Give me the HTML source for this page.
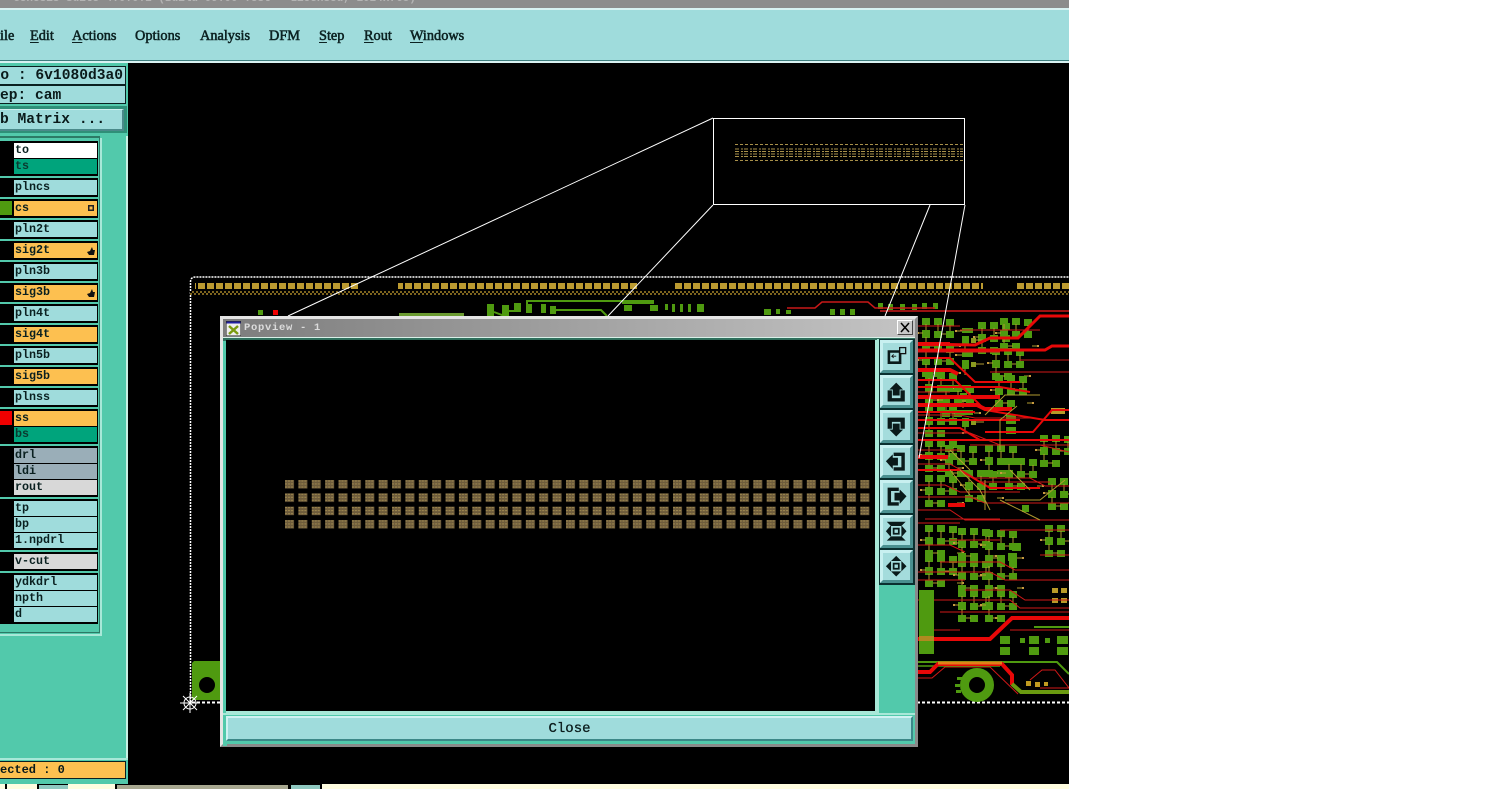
<!DOCTYPE html>
<html><head><meta charset="utf-8"><style>
html,body{margin:0;padding:0;background:#fff;width:1510px;height:789px;overflow:hidden}
#s{position:absolute;left:0;top:0;width:1069px;height:789px;overflow:hidden;background:#000}
.a{position:absolute;box-sizing:border-box}
.m{position:absolute;top:28px;font:normal 14.3px/16px "Liberation Serif",serif;-webkit-text-stroke:.55px #0c2222;color:#0c2222;white-space:nowrap}
.m u{text-underline-offset:2px}
.mono{font-family:"Liberation Mono",monospace;font-weight:bold;color:#0a1a1a;white-space:pre}
.l{position:absolute;left:14px;width:82px;height:15px;font:bold 11.7px/15px "Liberation Mono",monospace;color:#0a2020;background:#9fdcdc;padding-left:1px;overflow:hidden;white-space:pre}
.o{background:#fdc050}.g{background:#00a47c}.w{background:#fff}.b{background:#9aaeb8}.y{background:#d8d8d8}
.k{position:absolute;left:0;width:98px;background:#000}
.btn{position:absolute;left:880px;width:33px;height:33px;background:#a4dcdc;border-top:3px solid #c8f0f0;border-left:3px solid #c8f0f0;border-right:3px solid #4a9090;border-bottom:3px solid #4a9090;box-sizing:border-box}
.btn svg{position:absolute;left:-2px;top:-2px;transform:scale(.86)}
</style></head><body>
<div id="s">
<svg class="a" style="left:0;top:0" width="1069" height="789" viewBox="0 0 1069 789">
<defs>
<pattern id="gd" width="9" height="6" patternUnits="userSpaceOnUse" patternTransform="translate(0,283)"><rect width="7" height="6" fill="#bb9a30"/></pattern>
<pattern id="ht" width="4" height="4" patternUnits="userSpaceOnUse" patternTransform="translate(0,291)"><rect width="4" height="4" fill="#000"/><path d="M0 1h2M2 3h2" stroke="#c8a030" stroke-width="1.2"/></pattern>
<pattern id="pd" width="13.38" height="13.33" patternUnits="userSpaceOnUse" patternTransform="translate(285,480)"><rect x="0" y="0" width="9" height="8.500" fill="#6e5c3c"/><path d="M0 1h9M0 4h9M0 7h9" stroke="#a08a50" stroke-width="1" stroke-dasharray="2 1"/></pattern>
<g id="c"><rect x="0" y="0" width="8" height="7" fill="#4f9a10"/><rect x="12" y="0" width="8" height="7" fill="#4f9a10"/><rect x="24" y="1" width="8" height="7" fill="#4f9a10"/><rect x="0" y="12" width="8" height="8" fill="#4f9a10"/><rect x="12" y="13" width="8" height="7" fill="#4f9a10"/><rect x="24" y="13" width="8" height="7" fill="#4f9a10"/><rect x="0" y="25" width="8" height="7" fill="#4f9a10"/><rect x="12" y="25" width="8" height="7" fill="#4f9a10"/><path d="M4 6v6M16 6v7M28 7v6M-4 15h5M20 16h4M8 28h5M32 28h6M4 19v6" stroke="#b09a30" fill="none"/><rect x="-5" y="14" width="2" height="2" fill="#c89a40"/><rect x="37" y="27" width="2" height="2" fill="#c89a40"/></g>
<g id="t"><rect x="0" y="0" width="11" height="5" fill="#4f9a10"/><rect x="0" y="8" width="7" height="9" fill="#4f9a10"/><rect x="9" y="10" width="5" height="5" fill="#8a9a20"/><path d="M-6 3h6M14 12h8M3 17v6" stroke="#b09a30"/><rect x="-7" y="2" width="2" height="2" fill="#c89a40"/></g>
</defs>
<!-- board outline -->
<path d="M190.500 702V282q0-5 5-5H1069" fill="none" stroke="#fff" stroke-width="1.500" stroke-dasharray="2 1"/>
<path d="M192 702.500H1069" stroke="#fff" stroke-width="2" stroke-dasharray="3 2"/>
<rect x="195" y="283" width="165" height="6" fill="url(#gd)"/><rect x="398" y="283" width="240" height="6" fill="url(#gd)"/><rect x="673" y="283" width="310" height="6" fill="url(#gd)"/><rect x="1015" y="283" width="54" height="6" fill="url(#gd)"/>
<rect x="190" y="291" width="879" height="4" fill="url(#ht)"/>
<!-- top strip -->
<rect x="258" y="310" width="5" height="5" fill="#4f9a10"/><rect x="273" y="310" width="5" height="5" fill="#e00"/><rect x="399" y="313" width="65" height="4" fill="#6a9a30"/>
<g fill="#4f9a10"><rect x="487" y="304" width="7" height="13"/><rect x="502" y="305" width="7" height="12"/><rect x="514" y="303" width="7" height="9"/><rect x="526" y="304" width="6" height="9"/><rect x="541" y="304" width="5" height="9"/><rect x="550" y="306" width="6" height="8"/><rect x="622" y="300" width="32" height="4"/><rect x="624" y="305" width="8" height="6"/><rect x="650" y="305" width="8" height="6"/><rect x="665" y="304" width="3" height="6"/><rect x="672" y="304" width="3" height="8"/><rect x="680" y="304" width="3" height="8"/><rect x="688" y="304" width="3" height="8"/><rect x="697" y="304" width="7" height="8"/><rect x="764" y="309" width="7" height="6"/><rect x="776" y="309" width="4" height="5"/><rect x="786" y="310" width="5" height="4"/><rect x="830" y="309" width="5" height="6"/><rect x="840" y="309" width="5" height="6"/><rect x="850" y="309" width="5" height="6"/><rect x="878" y="303" width="5" height="6"/><rect x="888" y="304" width="5" height="6"/><rect x="900" y="304" width="5" height="6"/><rect x="912" y="304" width="5" height="6"/><rect x="922" y="303" width="5" height="6"/><rect x="933" y="303" width="5" height="6"/></g>
<path d="M494 312l8 3 7-4h5M527 312v-11h95M553 313l3-3h45l6 6" stroke="#4f9a10" fill="none" stroke-width="2"/>
<path d="M787 308h28l7-6h46l7 6h60M880 311H1069" stroke="#c81818" fill="none" stroke-width="1.500"/>
<!-- clusters -->
<use href="#c" x="978" y="322"/><use href="#c" x="1000" y="318"/><use href="#c" x="922" y="318"/><use href="#c" x="922" y="345"/><use href="#c" x="925" y="372"/><use href="#t" x="962" y="328"/><use href="#t" x="962" y="352"/><use href="#t" x="960" y="385"/><use href="#t" x="962" y="410"/><use href="#c" x="992" y="348"/><use href="#c" x="995" y="375"/><use href="#c" x="925" y="405"/><use href="#c" x="942" y="385"/><use href="#c" x="985" y="445"/><use href="#c" x="925" y="440"/><use href="#c" x="945" y="445"/><use href="#c" x="1005" y="458"/><use href="#c" x="925" y="475"/><use href="#c" x="965" y="470"/><use href="#c" x="1040" y="435"/><use href="#c" x="1048" y="478"/>
<use href="#c" x="925" y="525"/><use href="#c" x="958" y="528"/><use href="#c" x="985" y="530"/><use href="#c" x="925" y="555"/><use href="#c" x="958" y="560"/><use href="#c" x="985" y="560"/><use href="#c" x="958" y="590"/><use href="#c" x="985" y="590"/><use href="#c" x="1045" y="525"/>
<g fill="#4f9a10"><rect x="1006" y="415" width="10" height="9"/><rect x="1006" y="427" width="10" height="7"/><rect x="1012" y="543" width="9" height="8"/><rect x="1008" y="553" width="9" height="8"/><rect x="1022" y="505" width="7" height="7"/></g>
<g fill="#b89a28"><rect x="1051" y="408" width="14" height="6"/><rect x="1052" y="588" width="6" height="5"/><rect x="1061" y="588" width="6" height="5"/><rect x="1052" y="598" width="6" height="5"/><rect x="1061" y="598" width="6" height="5"/></g>
<!-- thick red -->
<g fill="none" stroke="#e80808">
<path stroke-width="3" d="M1069 316H1040L1018 338H990L975 345L918 344M918 350H1045L1052 346H1069"/>
<path stroke-width="4" d="M918 344H950M918 370H950L958 374M918 397H1000M918 405H977L985 409H1012M918 457H948M918 639H990L1012 618H1069M948 505H965"/>
<path stroke-width="2" d="M1069 410H1052L1033 432H985M918 358H950L975 382H1020M918 380H955L985 410L1045 420H1069M918 387H1000L1030 392M918 420H1020M918 428H960L980 440H1069M918 440H1000M918 470H960L990 488H1040M918 412H975"/>
</g>
<g fill="none" stroke="#d01818" stroke-width="1">
<path d="M918 311H1069M918 326H960M960 330H1040M990 372H1069M1020 360H1069M918 352H1000M918 392H950M918 415H960L975 418H1030M918 433H970L1000 445H1069M918 450H960M918 464H950L975 478H1030L1045 486H1069M970 445H1040L1069 452M918 485H945L960 492H1020M918 497H970L985 503H1069M918 510H950L965 520H1060M925 519H1000M980 482H1050M918 523H960M1000 530H1069M1045 520H1069M950 540H1000M918 545H950L965 552M1040 555H1069M940 562H1000L1015 570H1069M918 572H990L1005 580H1069M965 590H1010L1025 600H1069M918 600H1010L1020 608H1069M940 612H1069M918 580H965M925 630H960M1010 630H1069"/>
<path d="M918 678H932L945 667H990L1018 694M1030 680L1042 670H1055L1069 688M1040 688H1069"/>
</g>
<!-- gold traces -->
<g fill="none" stroke="#b09a30"><path d="M1017 406L1000 420V450M1040 395H1005L985 415M960 470L980 490L990 510M1000 500L1040 520M970 495L950 470M1065 480L1040 500H1005M1010 470L1030 490M985 480V510M950 450L970 470"/></g>
<!-- lower right -->
<rect x="919" y="590" width="15" height="64" fill="#4f9a10"/><rect x="919" y="636" width="15" height="5" fill="#b08a20"/>
<path d="M918 662H1057L1069 674" stroke="#4f9a10" stroke-width="2" fill="none"/>
<path d="M918 666H1000" stroke="#4f9a10" stroke-width="1.500" fill="none"/>
<path d="M918 672H930L938 664H1002L1012 675V685" stroke="#e80808" stroke-width="4" fill="none"/><path d="M938 663H1002" stroke="#e08018" stroke-width="3"/>
<path d="M1012 684L1021 692H1069" stroke="#6a9a10" stroke-width="4" fill="none"/>
<circle cx="977" cy="685" r="12.500" fill="none" stroke="#4f9a10" stroke-width="9"/>
<g fill="#4f9a10"><rect x="957" y="677" width="5" height="3"/><rect x="955" y="684" width="5" height="3"/><rect x="956" y="690" width="5" height="3"/><rect x="1000" y="636" width="10" height="8"/><rect x="1000" y="647" width="10" height="8"/><rect x="1029" y="636" width="10" height="8"/><rect x="1029" y="647" width="10" height="8"/><rect x="1057" y="636" width="11" height="8"/><rect x="1057" y="647" width="11" height="8"/><rect x="1020" y="638" width="5" height="5"/><rect x="1045" y="638" width="5" height="5"/></g>
<path d="M1034 627H1069" stroke="#4f9a10" stroke-width="2"/>
<g fill="#c09a20"><rect x="1026" y="681" width="5" height="5"/><rect x="1035" y="682" width="5" height="5"/><rect x="1044" y="682" width="4" height="4"/></g>
<!-- lower left pad -->
<path d="M194 661H220V700H192V663Z" fill="#4f9a10"/><circle cx="207" cy="685" r="8" fill="#000"/>
<!-- crosshair -->
<g stroke="#fff" stroke-width="1" fill="none"><path d="M190 693V713M180 703H200M183 696L197 710M197 696L183 710"/><circle cx="190" cy="703" r="6"/></g>
<!-- zoom box -->
<rect x="713.500" y="118.500" width="251" height="86" fill="none" stroke="#fff"/>
<g fill="none" stroke="#a8904a" stroke-width="1"><path d="M735 144.500H963M735 160.500H963" stroke-dasharray="3 2"/><path d="M735 149H963M735 151.500H963M735 154H963M735 156.500H963" stroke-dasharray="4 2 2 1"/></g>
<g stroke="#fff" fill="none"><path d="M713 118L288 316M713 205L608 316M930 205L885 316M965 205L919 458"/></g>
</svg>

<!-- title + menu -->
<div class="a" style="left:0;top:0;width:1069px;height:8px;background:#8c8c8c;overflow:hidden"><div class="a" style="left:0;top:-7px;color:#b4b4b4;font:bold 11px/12px 'Liberation Mono',monospace;white-space:pre">  Genesis Suite 4.0.0.2 (Build 09.00 Test - Licensed, 1024x768)</div></div>
<div class="a" style="left:0;top:8px;width:1069px;height:2px;background:#d8f2f2"></div>
<div class="a" style="left:0;top:10px;width:1069px;height:50px;background:#9fdcdc"></div>
<div class="a" style="left:0;top:60px;width:1069px;height:1px;background:#3f7f7f"></div>
<div class="a" style="left:0;top:61px;width:1069px;height:2px;background:#d8f2f2"></div>
<div class="m" style="left:0">ile</div><div class="m" style="left:30px"><u>E</u>dit</div><div class="m" style="left:72px"><u>A</u>ctions</div><div class="m" style="left:135px">Options</div><div class="m" style="left:200px">Analysis</div><div class="m" style="left:269px">DFM</div><div class="m" style="left:319px"><u>S</u>tep</div><div class="m" style="left:364px"><u>R</u>out</div><div class="m" style="left:410px"><u>W</u>indows</div>

<!-- left panel -->
<div class="a" style="left:0;top:63px;width:128px;height:721px;background:#52c9ab"></div>
<div class="a" style="left:126px;top:136px;width:2px;height:624px;background:#c8f0e4"></div>
<div class="a mono" style="left:0;top:66px;width:126px;height:19px;background:#9fdcdc;border:solid #0a2020;border-width:1px 1px 1px 0;font-size:14.600px;line-height:19px;text-align:right;padding-right:2px">o : 6v1080d3a0</div>
<div class="a mono" style="left:0;top:85px;width:126px;height:19px;background:#9fdcdc;border:solid #0a2020;border-width:1px 1px 1px 0;font-size:14.600px;line-height:20px">ep: cam</div>
<div class="a" style="left:0;top:106px;width:127px;height:27px;background:#2f8f78"></div>
<div class="a mono" style="left:0;top:109px;width:124px;height:22px;background:#9fdcdc;border-right:2px solid #4a8a8a;border-bottom:2px solid #4a8a8a;border-top:1px solid #d0f0f0;font-size:14.600px;line-height:21px">b Matrix ...</div>
<div class="a" style="left:0;top:136px;width:100px;height:497px;background:#52c9ab;border-right:1px solid #2c7a66;border-bottom:1px solid #2c7a66;border-top:2px solid #2c7a66"></div>
<div class="a" style="left:100px;top:138px;width:2px;height:497px;background:#a8e8d8"></div>
<div class="a" style="left:0;top:634px;width:102px;height:2px;background:#a8e8d8"></div>

<div class="k" style="top:141px;height:35px"></div><div class="k" style="top:178px;height:19px"></div><div class="k" style="top:199px;height:19px"></div><div class="k" style="top:220px;height:19px"></div><div class="k" style="top:241px;height:19px"></div><div class="k" style="top:262px;height:19px"></div><div class="k" style="top:283px;height:19px"></div><div class="k" style="top:304px;height:19px"></div><div class="k" style="top:325px;height:19px"></div><div class="k" style="top:346px;height:19px"></div><div class="k" style="top:367px;height:19px"></div><div class="k" style="top:388px;height:19px"></div><div class="k" style="top:409px;height:35px"></div><div class="k" style="top:446px;height:51px"></div><div class="k" style="top:499px;height:51px"></div><div class="k" style="top:552px;height:19px"></div><div class="k" style="top:573px;height:51px"></div>
<div class="a" style="left:0;top:201px;width:12px;height:14px;background:#4f9a10"></div>
<div class="a" style="left:0;top:411px;width:12px;height:14px;background:#f00000"></div>

<div class="l w" style="top:143px">to</div><div class="l g" style="top:159px;color:#0a3a30">ts</div>
<div class="l" style="top:180px">plncs</div><div class="l o" style="top:201px">cs</div><div class="l" style="top:222px">pln2t</div><div class="l o" style="top:243px">sig2t</div><div class="l" style="top:264px">pln3b</div><div class="l o" style="top:285px">sig3b</div><div class="l" style="top:306px">pln4t</div><div class="l o" style="top:327px">sig4t</div><div class="l" style="top:348px">pln5b</div><div class="l o" style="top:369px">sig5b</div><div class="l" style="top:390px">plnss</div>
<div class="l o" style="top:411px">ss</div><div class="l g" style="top:427px;color:#0a3a30">bs</div>
<div class="l b" style="top:448px">drl</div><div class="l b" style="top:464px">ldi</div><div class="l y" style="top:480px">rout</div>
<div class="l" style="top:501px">tp</div><div class="l" style="top:517px">bp</div><div class="l" style="top:533px">1.npdrl</div>
<div class="l y" style="top:554px">v-cut</div>
<div class="l" style="top:575px">ydkdrl</div><div class="l" style="top:591px">npth</div><div class="l" style="top:607px">d</div>
<svg class="a" style="left:86px;top:203px" width="10" height="100" viewBox="0 0 10 100"><rect x="2" y="2" width="6" height="6" fill="#222"/><rect x="3.500" y="3.500" width="3" height="3" fill="#fdc050"/><path d="M1 49l3-1 2-4 1 3 2 0-1 5H3ZM1 91l3-1 2-4 1 3 2 0-1 5H3Z" fill="#111"/></svg>

<div class="a" style="left:0;top:758px;width:128px;height:2px;background:#a8e8d8"></div>
<div class="a mono" style="left:0;top:761px;width:126px;height:18px;background:#fdc050;border:solid #0a2020;border-width:1px 1px 1px 0;font-size:12px;line-height:16px">ected : 0</div>

<!-- bottom strip -->
<div class="a" style="left:0;top:784px;width:1069px;height:5px;background:#fffde0"></div>
<div class="a" style="left:5px;top:784px;width:2px;height:5px;background:#000"></div>
<div class="a" style="left:37px;top:784px;width:31px;height:5px;background:#000"></div><div class="a" style="left:39px;top:785px;width:29px;height:4px;background:#8fc8c0"></div>
<div class="a" style="left:115px;top:784px;width:175px;height:5px;background:#000"></div><div class="a" style="left:117px;top:785px;width:171px;height:4px;background:#a8a890"></div>
<div class="a" style="left:290px;top:784px;width:32px;height:5px;background:#000"></div><div class="a" style="left:291px;top:785px;width:29px;height:4px;background:#8fc8c0"></div>

<!-- popup -->
<div class="a" style="left:220px;top:316px;width:698px;height:431px;background:#52c9ab;border-top:3px solid #e4e4e4;border-left:3px solid #e4e4e4;border-right:3px solid #8a8a8a;border-bottom:3px solid #8a8a8a"></div>
<div class="a" style="left:223px;top:319px;width:692px;height:18px;background:linear-gradient(90deg,#7d7d7d,#c4c4c4)"></div>
<div class="a" style="left:223px;top:337px;width:692px;height:1px;background:#d8f0e8"></div>
<div class="a" style="left:223px;top:338px;width:692px;height:3px;background:#2f6f5c"></div>
<svg class="a" style="left:226px;top:321px" width="15" height="15" viewBox="0 0 15 15"><rect width="15" height="15" fill="#eee" stroke="#222"/><rect x="0.500" y="0.500" width="14" height="2" fill="#2020a0"/><path d="M3 5l9 8M12 5l-9 8" stroke="#7a9a10" stroke-width="2.500"/></svg>
<div class="a" style="left:244px;top:321px;font:bold 10.500px/14px 'Liberation Mono',monospace;letter-spacing:.7px;color:#dcdcdc;white-space:pre">Popview - 1</div>
<div class="a" style="left:897px;top:320px;width:16px;height:15px;background:#c8c8c8;border:1px solid;border-color:#fff #444 #444 #fff"></div>
<svg class="a" style="left:897px;top:320px" width="16" height="15"><path d="M4 3l8 9M12 3l-8 9" stroke="#000" stroke-width="1.500"/></svg>
<div class="a" style="left:223px;top:341px;width:4px;height:405px;background:#52c9ab"></div>
<div class="a" style="left:226px;top:340px;width:651px;height:373px;background:#000;border-right:2px solid #a8e8d8;border-bottom:2px solid #a8e8d8"></div>
<svg class="a" style="left:0;top:0" width="1069" height="789"><rect x="285" y="480" width="585" height="50" fill="url(#pd)"/></svg>
<div class="a" style="left:877px;top:340px;width:38px;height:373px;background:#52c9ab"></div>
<div class="a" style="left:878px;top:339px;width:37px;height:246px;background:#0a3030"></div>
<div class="a" style="left:877px;top:339px;width:2px;height:374px;background:#a8e8d8"></div>
<div class="a" style="left:915px;top:339px;width:1px;height:374px;background:#8a8a8a"></div>

<div class="btn" style="top:340px"><svg width="33" height="33"><path d="M5 8H21V24H5ZM8 11H18V21H8Z" fill="#0a1a1a" fill-rule="evenodd"/><rect x="19" y="5" width="7" height="7" fill="#a4dcdc" stroke="#111" stroke-width="1.500"/><path d="M15 15h-5l2-2M10 15l2 2" stroke="#111" fill="none"/></svg></div>
<div class="btn" style="top:375px"><svg width="33" height="33"><path d="M5 14H10V23H20V14H25V27H5Z" fill="#0a1a1a"/><path d="M15 5L23 13H19V20H11V13H7Z" fill="#0a1a1a"/></svg></div>
<div class="btn" style="top:410px"><svg width="33" height="33"><path d="M5 5H25V18H20V10H10V18H5Z" fill="#0a1a1a"/><path d="M15 27L23 19H19V12H11V19H7Z" fill="#0a1a1a"/></svg></div>
<div class="btn" style="top:445px"><svg width="33" height="33"><path d="M12 5H25V26H12V22H21V9H12Z" fill="#0a1a1a"/><path d="M3 15L11 7V11H17V20H11V24Z" fill="#0a1a1a"/></svg></div>
<div class="btn" style="top:480px"><svg width="33" height="33"><path d="M5 5H18V9H9V22H18V26H5Z" fill="#0a1a1a"/><path d="M27 15L19 7V11H13V20H19V24Z" fill="#0a1a1a"/></svg></div>
<div class="btn" style="top:515px"><svg width="33" height="33" fill="#0a1a1a"><path d="M4 4H26L21 9H9ZM4 26H26L21 21H9ZM3 15L9 8V22ZM27 15L21 8V22Z"/><path d="M11 11h8v8h-8ZM13 13v4h4v-4Z" fill-rule="evenodd"/></svg></div>
<div class="btn" style="top:550px"><svg width="33" height="33" fill="#0a1a1a"><path d="M15 3L21 9H9ZM15 27L21 21H9ZM3 15L9 9V21ZM27 15L21 9V21Z"/><path d="M11 11h8v8h-8ZM13 13v4h4v-4Z" fill-rule="evenodd"/></svg></div>

<div class="a" style="left:223px;top:713px;width:692px;height:31px;background:#52c9ab"></div>
<div class="a" style="left:223px;top:713px;width:692px;height:2px;background:#a8e8d8"></div>
<div class="a mono" style="left:226px;top:716px;width:687px;height:25px;background:#9fdcdc;border-top:2px solid #d0f2f2;border-left:2px solid #d0f2f2;border-right:2px solid #3c8888;border-bottom:2px solid #3c8888;text-align:center;font-size:14px;line-height:22px;font-weight:normal;-webkit-text-stroke:.3px #0a1a1a">Close</div>
</div>
</body></html>
